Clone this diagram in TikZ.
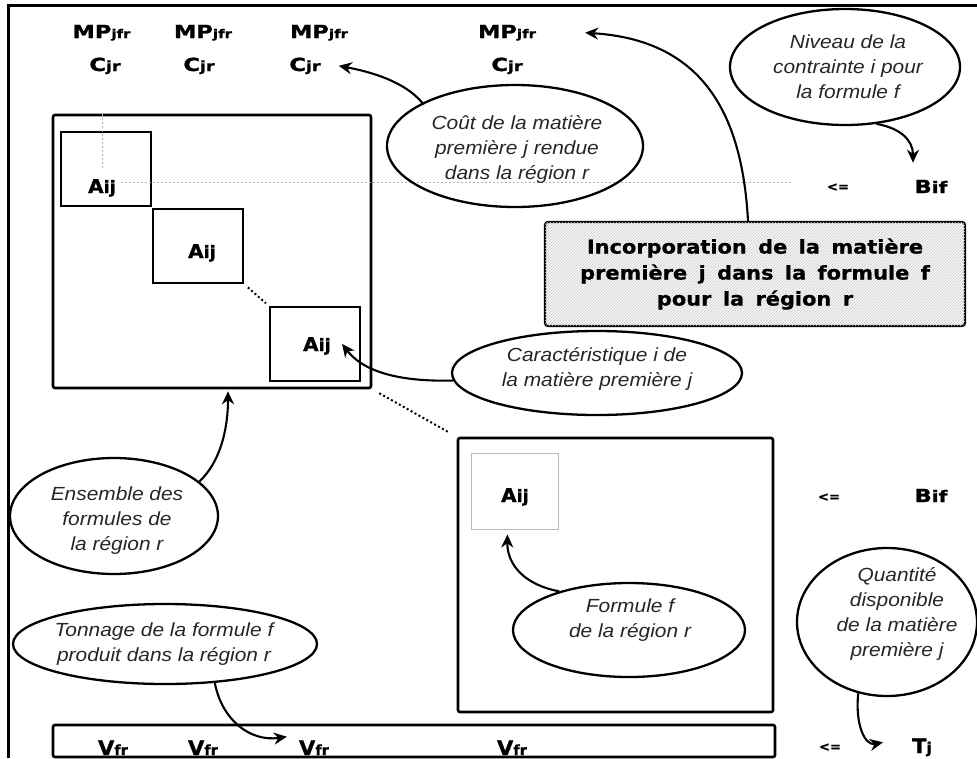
\documentclass[tikz,border=0pt]{standalone}
\usepackage{fontspec}
\setmainfont{Liberation Sans}
\newfontfamily\itf[FakeStretch=1.1]{Liberation Sans}
\newfontfamily\lbl[FakeStretch=1.25,FakeBold=1.2]{DejaVu Sans}
\newfontfamily\lblA[FakeStretch=1.05,FakeBold=1.2]{DejaVu Sans}
\newfontfamily\boxf[FakeStretch=1.1,FakeBold=0.8]{DejaVu Sans}
\usetikzlibrary{shapes.geometric,arrows.meta,patterns,calc}
\newcommand\mpjfr{{\fontsize{18}{18}\selectfont MP}{\fontsize{12}{12}\selectfont jfr}}
\newcommand\cjrl{{\fontsize{18}{18}\selectfont C}{\fontsize{14}{14}\selectfont jr}}
\newcommand\aijl{{\fontsize{19}{19}\selectfont A}{\fontsize{17}{17}\selectfont ij}}
\newcommand\bifl{{\fontsize{18}{18}\selectfont B}{\fontsize{16}{16}\selectfont if}}
\newcommand\vfrl{{\fontsize{20}{20}\selectfont V}{\fontsize{14}{14}\selectfont fr}}
\newcommand\tjl{{\fontsize{20}{20}\selectfont T}{\fontsize{15}{15}\selectfont j}}
\tikzset{
  thickbox/.style={draw, line width=2.6pt, rounded corners=2pt, inner sep=0pt},
  subbox/.style={draw, line width=2.2pt, inner sep=0pt, minimum width=90pt, minimum height=74pt},
  bubble/.style={draw, ellipse, line width=2.3pt, inner sep=0pt},
  itxt/.style={font=\itf\itshape\fontsize{19}{25}\selectfont, text=black!85, align=center, inner sep=0pt},
  lab/.style={font=\lbl\bfseries, inner sep=0pt, anchor=base},
  labA/.style={font=\lblA\bfseries, inner sep=0pt, anchor=base},
  leqs/.style={font=\lblA\bfseries\fontsize{12.5}{12.5}\selectfont, inner sep=0pt, anchor=base},
  callout/.style={line width=2.1pt, -{Stealth[length=13pt,width=12pt]}},
  bdot/.style={line width=2pt, dash pattern=on 2pt off 2.5pt},
  gdot/.style={gray!60, line width=1pt, dash pattern=on 2pt off 2pt},
}
\begin{document}
\begin{tikzpicture}[x=1pt,y=-1pt]
\useasboundingbox (0,0) rectangle (977,758);
% frame
\draw[line width=3pt] (8,758) -- (8,5) -- (977,5);

% top labels
\node[lab] (mp1) at (101.5,38) {\mpjfr};
\node[lab] (mp2) at (203,38) {\mpjfr};
\node[lab] (mp3) at (319,38) {\mpjfr};
\node[lab] (mp4) at (507,38) {\mpjfr};
\node[lab] (cjr1) at (105,71) {\cjrl};
\node[lab] (cjr2) at (199,71) {\cjrl};
\node[lab] (cjr3) at (305,71) {\cjrl};
\node[lab] (cjr4) at (507,71) {\cjrl};

% left matrix block
\node[thickbox, minimum width=318pt, minimum height=273pt] (box1) at (212,251.5) {};
\node[subbox] (a1box) at (106,169) {};
\node[subbox] (a2box) at (198,246) {};
\node[subbox] (a3box) at (315,344) {};
\node[labA] (a1t) at (102,193) {\aijl};
\node[labA] (a2t) at (202,258) {\aijl};
\node[labA] (a3t) at (317,351) {\aijl};

% right lower block
\node[thickbox, minimum width=315pt, minimum height=274pt] (box2) at (615.5,575) {};
\node[draw=gray!55, line width=1pt, inner sep=0pt, minimum width=87pt, minimum height=76pt] (gbox) at (514.5,491) {};
\node[labA] (a4t) at (515,502) {\aijl};

% bottom bar
\node[thickbox, minimum width=722pt, minimum height=32pt] (bar) at (414,741) {};
\node[labA] (v1) at (113,755) {\vfrl};
\node[labA] (v2) at (203,755) {\vfrl};
\node[labA] (v3) at (314,755) {\vfrl};
\node[labA] (v4) at (512,755) {\vfrl};

% right side labels
\node[leqs] (leq1) at (838,191) {<=};
\node[lab] (bif1) at (931,193) {\bifl};
\node[leqs] (leq2) at (829,501) {<=};
\node[lab] (bif2) at (931,502) {\bifl};
\node[leqs] (leq3) at (830,751) {<=};
\node[labA] (tj) at (922,753) {\tjl};

% gray guide lines
\draw[gdot] (a1t.north |- box1.north) -- ([yshift=10pt]a1t.north);
\draw[gdot] ([xshift=5pt,yshift=5pt]a1t.east) -- ([xshift=-34pt,yshift=5pt]a1t.east -| leq1.west);

% hatched box
\node[draw, line width=2.2pt, rounded corners=3pt, fill=gray!6,
      postaction={pattern=north east lines, pattern color=gray!40},
      minimum width=420pt, minimum height=104pt, inner sep=0pt, align=center,
      font={\boxf\bfseries\fontsize{19}{26}\selectfont\spaceskip=0.6em\relax}]
  (incorp) at (755,274) {Incorporation de la matière\\première j dans la formule f\\pour la région r};

% ellipses
\node[bubble, minimum width=256pt, minimum height=122pt] (cout) at (515,146) {};
\node[itxt] (coutT) at (517,149) {Coût de la matière\\première j rendue\\dans la région r};
\node[bubble, minimum width=230pt, minimum height=116pt] (niveau) at (845,67) {};
\node[itxt] (niveauT) at (848,67) {Niveau de la\\contrainte i pour\\la formule f};
\node[bubble, minimum width=290pt, minimum height=84pt] (carac) at (597,373) {};
\node[itxt] (caracT) at (597,369) {Caractéristique i de\\la matière première j};
\node[bubble, minimum width=232pt, minimum height=94pt] (formule) at (629,630) {};
\node[itxt] (formuleT) at (630,620) {Formule f\\de la région r};
\node[bubble, minimum width=180pt, minimum height=148pt] (quant) at (887,622) {};
\node[itxt] (quantT) at (897,614) {Quantité\\disponible\\de la matière\\première j};
\node[bubble, minimum width=304pt, minimum height=80pt] (tonnage) at (165,644) {};
\node[itxt] (tonnageT) at (164,644) {Tonnage de la formule f\\produit dans la région r};
\node[bubble, minimum width=208pt, minimum height=116pt] (ensemble) at (114,516) {};
\node[itxt] (ensembleT) at (117,521) {Ensemble des\\formules de\\la région r};

% dotted links
\draw[bdot, shorten <=5pt, shorten >=4pt] (a2box.south east) -- (a3box.north west);
\draw[bdot, shorten <=8pt, shorten >=9pt] (box1.south east) -- (box2.north west);

% callout arrows
\draw[callout] (cout.155) .. controls (405,82) and (372,72) .. ([xshift=18pt]cjr3.east);
\draw[callout] ([xshift=-7pt]incorp.north) .. controls (742,110) and (700,40) .. ([xshift=49pt]mp4.east);
\draw[callout] (niveau.-61) .. controls (900,128) and (913,140) .. ([xshift=-18pt,yshift=17pt]bif1.north);
\draw[callout] (carac.183) .. controls (395,382) and (362,370) .. ([xshift=11pt,yshift=2pt]a3t.east);
\draw[callout, shorten >=2pt] (ensemble.22) .. controls (220,462) and (228,430) .. ([xshift=16pt]box1.south);
\draw[callout, shorten >=5pt] (formule.151) .. controls (525,585) and (507,565) .. ([xshift=-7pt]gbox.south);
\draw[callout] (quant.-112) .. controls (855,725) and (865,746) .. ([xshift=-29pt,yshift=5pt]tj.west);
\draw[callout] (tonnage.-38) .. controls (222,720) and (250,742) .. ([xshift=-12pt,yshift=11pt]v3.west);
\end{tikzpicture}
\end{document}
